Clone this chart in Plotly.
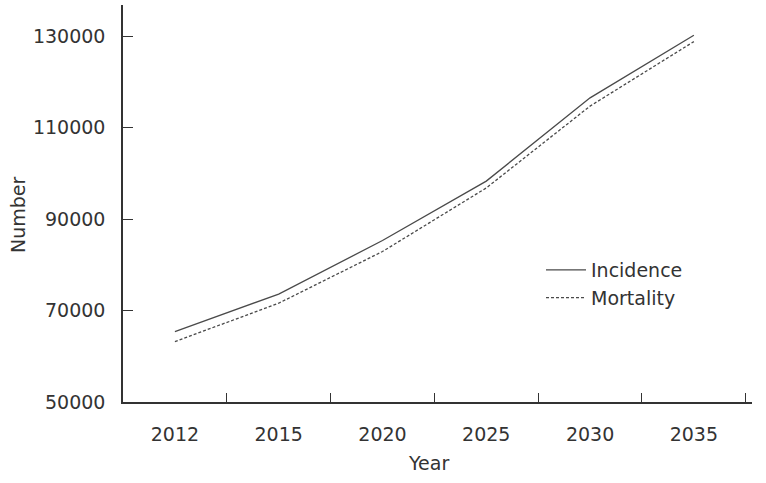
import plotly.graph_objects as go

years = ["2012", "2015", "2020", "2025", "2030", "2035"]
incidence = [65400, 73600, 85300, 98300, 116500, 130200]
mortality = [63200, 71600, 82900, 96800, 114700, 128800]
y_ticks = [50000, 70000, 90000, 110000, 130000]
y_tick_text = [str(v) for v in y_ticks]

FONT = "DejaVu Sans"
TXT = "#333333"
LINE = "#4a4a4a"

fig = go.Figure()
fig.add_trace(go.Scatter(x=years, y=incidence, mode="lines", name="Incidence",
                         line=dict(color=LINE, width=1.3)))
fig.add_trace(go.Scatter(x=years, y=mortality, mode="lines", name="Mortality",
                         line=dict(color=LINE, width=1.3, dash="3px,2px")))

L, R, T, B = 123, 14, 5, 81
pw, ph = 766 - L - R, 483 - T - B

fig.update_layout(
    width=766, height=483,
    margin=dict(l=L, r=R, t=T, b=B),
    paper_bgcolor="white", plot_bgcolor="white",
    font=dict(family=FONT, size=19, color=TXT),
    showlegend=True,
    legend=dict(x=(541 - L) / pw, y=(402 - 251) / ph, xanchor="left", yanchor="top",
                bgcolor="rgba(0,0,0,0)", font=dict(size=19, color=TXT),
                tracegroupgap=0, itemwidth=40),
    annotations=[
        dict(text="Year", x=(428 - L) / pw, y=(402 - 463) / ph,
             xref="paper", yref="paper",
             showarrow=False, xanchor="center", yanchor="middle"),
        dict(text="Number", x=(18 - L) / pw, y=(402 - 215) / ph,
             xref="paper", yref="paper",
             showarrow=False, xanchor="center", yanchor="middle", textangle=-90),
    ],
)

fig.update_xaxes(type="category", range=[-0.5, 5.56], showgrid=False, zeroline=False,
                 showline=True, linecolor="#333333", linewidth=1.5,
                 ticks="inside", ticklen=9, tickcolor="#333333", tickwidth=1.3,
                 tickson="boundaries", ticklabelstandoff=14, automargin=False)
fig.update_yaxes(range=[50000, 136800], tickvals=y_ticks, ticktext=y_tick_text,
                 showgrid=False, zeroline=False,
                 showline=True, linecolor="#333333", linewidth=1.5,
                 ticks="inside", ticklen=10, tickcolor="#333333", tickwidth=1.3,
                 ticklabelstandoff=12, automargin=False)

fig.write_html("out.html", config={"displayModeBar": False},
               post_script="document.body.style.margin='0';")
